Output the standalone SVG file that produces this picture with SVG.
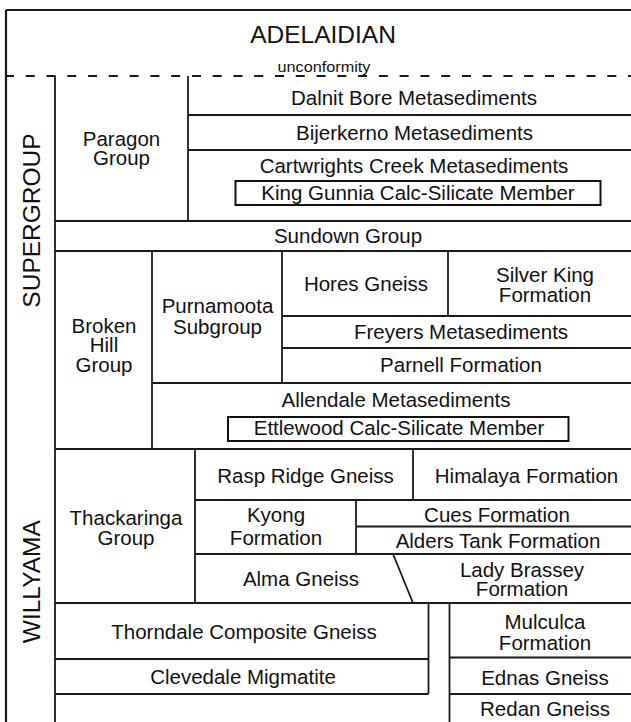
<svg xmlns="http://www.w3.org/2000/svg" width="631" height="722" viewBox="0 0 631 722">
<style>
.ln{stroke:#1a1a1a;stroke-width:1.8;fill:none}
.bx{stroke:#111;stroke-width:2;fill:none}
.t{font-family:"Liberation Sans",Arial,Helvetica,sans-serif;font-size:20.5px;fill:#111;text-anchor:middle}
.big{font-family:"Liberation Sans",Arial,Helvetica,sans-serif;font-size:24.5px;fill:#111;text-anchor:middle}
.sm{font-family:"Liberation Sans",Arial,Helvetica,sans-serif;font-size:14px;fill:#111;text-anchor:middle}
</style>
<rect width="631" height="722" fill="#fff"/>
<g id="grid">
<path class="ln" style="stroke-width:2.2" d="M6,10H641M6,10V722"/>
<path class="ln" stroke-dasharray="9 11.77" d="M5,76H641"/>
<path class="ln" d="M55,76V722M188,76V221M188,115H641M188,150H641M55,221H641M55,251H641M152,251V449M282,251V383M448,251V316M282,316H641M282,348H641M152,383H641M55,449H641M195,449V603M413,449V500M195,500H641M356,500V554M356,526.5H641M195,554H641M393,554L413,603M55,603H641M428.5,603V694M55,659H428.5M55,694H428.5M449.5,603V722M449.5,657.5H641M449.5,694H641"/>
</g>
<g id="adelaidian"><text class="big" x="323" y="43">ADELAIDIAN</text></g>
<g id="unconformity"><text class="sm" x="324" y="72" textLength="93" lengthAdjust="spacingAndGlyphs">unconformity</text></g>
<g id="supergroup"><text class="big" transform="translate(40,220.5) rotate(-90)">SUPERGROUP</text></g>
<g id="willyama"><text class="big" transform="translate(40,581.7) rotate(-90)">WILLYAMA</text></g>
<g id="paragon-group"><text class="t" x="121.5" y="146">Paragon</text><text class="t" x="121.5" y="165">Group</text></g>
<g id="dalnit-bore"><text class="t" x="414" y="105">Dalnit Bore Metasediments</text></g>
<g id="bijerkerno"><text class="t" x="414.5" y="140">Bijerkerno Metasediments</text></g>
<g id="cartwrights-creek"><text class="t" x="414" y="173.3">Cartwrights Creek Metasediments</text></g>
<g id="king-gunnia"><rect class="bx" x="235.5" y="181" width="365" height="24"/><text class="t" x="418" y="199.5">King Gunnia Calc-Silicate Member</text></g>
<g id="sundown-group"><text class="t" x="348" y="243.3">Sundown Group</text></g>
<g id="broken-hill-group"><text class="t" x="104" y="332.7">Broken</text><text class="t" x="104" y="352">Hill</text><text class="t" x="104" y="371.7">Group</text></g>
<g id="purnamoota-subgroup"><text class="t" x="217.5" y="313.3">Purnamoota</text><text class="t" x="217.5" y="334">Subgroup</text></g>
<g id="hores-gneiss"><text class="t" x="366" y="290.7">Hores Gneiss</text></g>
<g id="silver-king"><text class="t" x="545" y="281.7">Silver King</text><text class="t" x="545" y="301.7">Formation</text></g>
<g id="freyers"><text class="t" x="461" y="339">Freyers Metasediments</text></g>
<g id="parnell"><text class="t" x="461" y="371.7">Parnell Formation</text></g>
<g id="allendale"><text class="t" x="396" y="406.7">Allendale Metasediments</text></g>
<g id="ettlewood"><rect class="bx" x="228" y="417" width="340.5" height="24"/><text class="t" x="399" y="435">Ettlewood Calc-Silicate Member</text></g>
<g id="thackaringa-group"><text class="t" x="126" y="525">Thackaringa</text><text class="t" x="126" y="545">Group</text></g>
<g id="rasp-ridge"><text class="t" x="305.5" y="482.7">Rasp Ridge Gneiss</text></g>
<g id="himalaya"><text class="t" x="526.5" y="482.7">Himalaya Formation</text></g>
<g id="kyong"><text class="t" x="276" y="521.7">Kyong</text><text class="t" x="276" y="545">Formation</text></g>
<g id="cues"><text class="t" x="497" y="521.7">Cues Formation</text></g>
<g id="alders-tank"><text class="t" x="498" y="548.3">Alders Tank Formation</text></g>
<g id="alma-gneiss"><text class="t" x="301" y="585.7">Alma Gneiss</text></g>
<g id="lady-brassey"><text class="t" x="522" y="576.7">Lady Brassey</text><text class="t" x="522" y="595.7">Formation</text></g>
<g id="thorndale"><text class="t" x="244" y="639">Thorndale Composite Gneiss</text></g>
<g id="clevedale"><text class="t" x="243" y="684">Clevedale Migmatite</text></g>
<g id="mulculca"><text class="t" x="545" y="629">Mulculca</text><text class="t" x="545" y="650">Formation</text></g>
<g id="ednas-gneiss"><text class="t" x="545" y="685">Ednas Gneiss</text></g>
<g id="redan-gneiss"><text class="t" x="545" y="716">Redan Gneiss</text></g>
</svg>
